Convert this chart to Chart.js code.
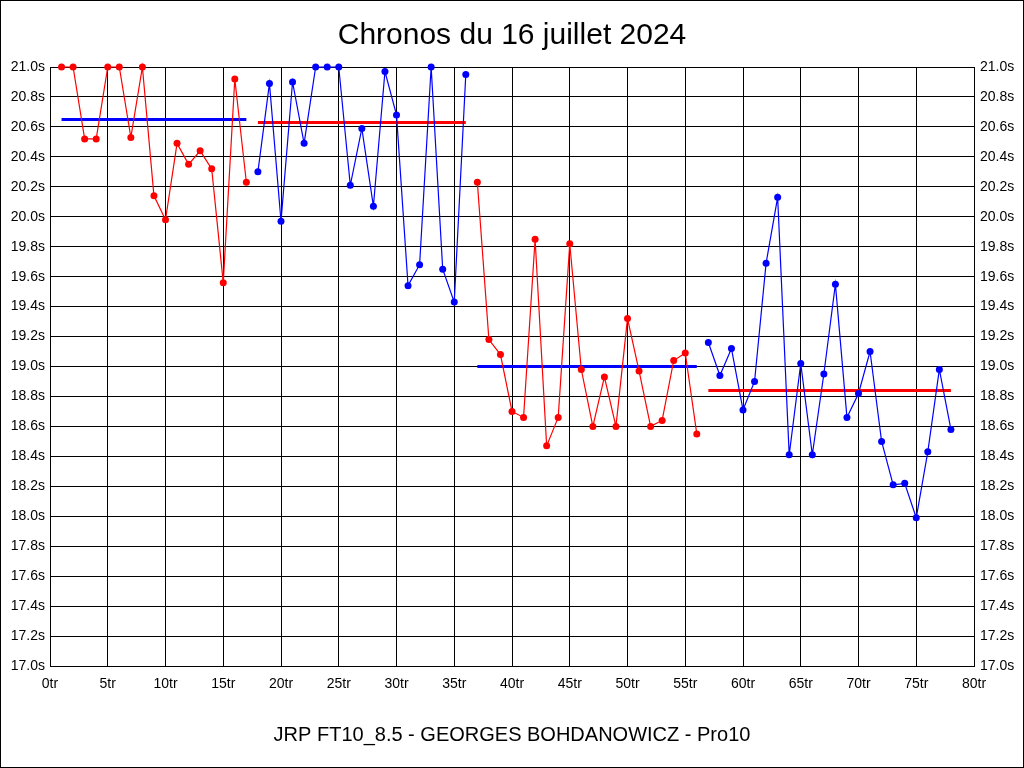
<!DOCTYPE html>
<html lang="fr">
<head>
    <meta charset="UTF-8">
    <title>Chronos du 16 juillet 2024</title>
    <script src="https://cdn.jsdelivr.net/npm/chart.js@4.4.1/dist/chart.umd.min.js"></script>
    <style>
        html, body { margin: 0; padding: 0; background: #fff; }
        canvas { display: block; }
    </style>
</head>
<body>
    <canvas id="chronos" width="1024" height="768"></canvas>

    <script>
        // Lap times (seconds), one array per run of laps
        const run1Start = 1;
        const run1 = [21.00, 21.00, 20.52, 20.52, 21.00, 21.00, 20.53, 21.00, 20.14, 19.98, 20.49, 20.35, 20.44, 20.32, 19.56, 20.92, 20.23];
        const run2Start = 18;
        const run2 = [20.30, 20.89, 19.97, 20.90, 20.49, 21.00, 21.00, 21.00, 20.21, 20.59, 20.07, 20.97, 20.68, 19.54, 19.68, 21.00, 19.65, 19.43, 20.95];
        const run3Start = 37;
        const run3 = [20.23, 19.18, 19.08, 18.70, 18.66, 19.85, 18.47, 18.66, 19.82, 18.98, 18.60, 18.93, 18.60, 19.32, 18.97, 18.60, 18.64, 19.04, 19.09, 18.55];
        const run4Start = 57;
        const run4 = [19.16, 18.94, 19.12, 18.71, 18.90, 19.69, 20.13, 18.41, 19.02, 18.41, 18.95, 19.55, 18.66, 18.82, 19.10, 18.50, 18.21, 18.22, 17.99, 18.43, 18.98, 18.58];

        // Average level drawn over each run
        const runMeans = [20.65, 20.63, 19.00, 18.84];

        const titleText = 'Chronos du 16 juillet 2024';
        const footerText = 'JRP FT10_8.5 - GEORGES BOHDANOWICZ - Pro10';

        const RED = '#ff0000';
        const BLUE = '#0000ff';
        const FONT = '"Liberation Sans", Arial, sans-serif';

        function toPoints(start, values) {
            return values.map((v, i) => ({ x: start + i, y: v }));
        }

        function lapSeries(start, values, color) {
            return {
                data: toPoints(start, values),
                borderColor: color,
                backgroundColor: color,
                borderWidth: 1.2,
                pointRadius: 3.5,
                pointBorderWidth: 0,
                pointHoverRadius: 3.5,
                tension: 0,
                clip: false
            };
        }

        function meanSeries(start, values, mean, color) {
            return {
                data: [{ x: start, y: mean }, { x: start + values.length - 1, y: mean }],
                borderColor: color,
                borderWidth: 3,
                pointRadius: 0,
                tension: 0
            };
        }

        // white background + thin frame around the whole picture
        const framePlugin = {
            id: 'frame',
            beforeDraw(chart) {
                const ctx = chart.ctx;
                ctx.save();
                ctx.fillStyle = '#fff';
                ctx.fillRect(0, 0, chart.width, chart.height);
                ctx.restore();
            },
            afterDraw(chart) {
                const ctx = chart.ctx;
                ctx.save();
                ctx.strokeStyle = '#000';
                ctx.lineWidth = 1;
                ctx.strokeRect(0.5, 0.5, chart.width - 1, chart.height - 1);
                ctx.restore();
            }
        };

        const yTicks = {
            stepSize: 0.2,
            color: '#000',
            font: { family: FONT, size: 14 },
            callback: v => v.toFixed(1) + 's'
        };

        new Chart(document.getElementById('chronos'), {
            type: 'line',
            data: {
                datasets: [
                    lapSeries(run1Start, run1, RED),
                    lapSeries(run2Start, run2, BLUE),
                    lapSeries(run3Start, run3, RED),
                    lapSeries(run4Start, run4, BLUE),
                    meanSeries(run1Start, run1, runMeans[0], BLUE),
                    meanSeries(run2Start, run2, runMeans[1], RED),
                    meanSeries(run3Start, run3, runMeans[2], BLUE),
                    meanSeries(run4Start, run4, runMeans[3], RED)
                ]
            },
            options: {
                responsive: false,
                animation: false,
                layout: { padding: 0 },
                plugins: {
                    legend: { display: false },
                    tooltip: { enabled: false },
                    title: {
                        display: true,
                        text: titleText,
                        color: '#000',
                        font: { family: FONT, size: 30, weight: 'normal' },
                        padding: { top: 18, bottom: 13 }
                    },
                    subtitle: {
                        display: true,
                        position: 'bottom',
                        text: footerText,
                        color: '#000',
                        font: { family: FONT, size: 20, weight: 'normal' },
                        padding: { top: 7, bottom: 21 }
                    }
                },
                scales: {
                    x: {
                        type: 'linear',
                        min: 0,
                        max: 80,
                        ticks: {
                            stepSize: 5,
                            color: '#000',
                            padding: 10,
                            maxRotation: 0,
                            font: { family: FONT, size: 14 },
                            callback: v => v + 'tr'
                        },
                        grid: { color: '#000', lineWidth: 1, drawTicks: false },
                        border: { color: '#000', width: 1 },
                        afterFit: s => { s.height = 50; }
                    },
                    y: {
                        position: 'left',
                        min: 17,
                        max: 21,
                        ticks: Object.assign({ padding: 5 }, yTicks),
                        grid: { color: '#000', lineWidth: 1, drawTicks: false },
                        border: { color: '#000', width: 1 },
                        afterFit: s => { s.width = 50; }
                    },
                    y2: {
                        position: 'right',
                        min: 17,
                        max: 21,
                        ticks: Object.assign({ padding: 6 }, yTicks),
                        grid: { display: false, drawTicks: false },
                        border: { color: '#000', width: 1 },
                        afterFit: s => { s.width = 50; }
                    }
                }
            },
            plugins: [framePlugin]
        });
    </script>
</body>
</html>
